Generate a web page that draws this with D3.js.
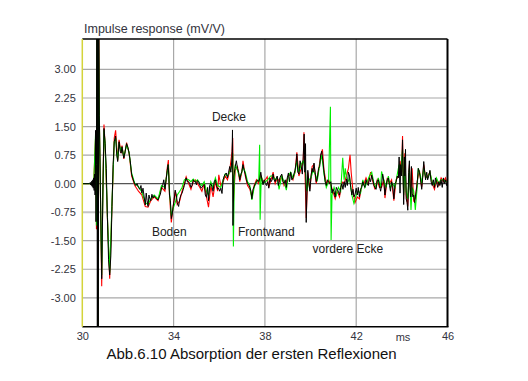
<!DOCTYPE html>
<html><head><meta charset="utf-8">
<script src="https://cdn.jsdelivr.net/npm/d3@7/dist/d3.min.js"></script>
<style>
html,body{margin:0;padding:0;background:#fff;}
svg{display:block;font-family:"Liberation Sans",Arial,sans-serif;}
</style></head>
<body><svg id="chart" width="528" height="381"></svg>
<script>
const yTicks = [3, 2.25, 1.5, 0.75, 0, -0.75, -1.5, -2.25, -3];
const xTicks = [30, 34, 38, 42, 46];
const title = "Impulse response (mV/V)";
const xUnit = "ms";
const caption = "Abb.6.10 Absorption der ersten Reflexionen";
const annotations = [
  {text: "Decke", t: 35.68, v: 1.65},
  {text: "Boden", t: 33.05, v: -1.38},
  {text: "Frontwand", t: 36.82, v: -1.38},
  {text: "vordere Ecke", t: 40.09, v: -1.82}
];

// [time ms, value mV/V]
const blackSeries = [[30.00,0],[30.30,0],[30.34,0.02],[30.36,-0.03],[30.38,0.04],[30.40,-0.05],[30.42,0.07],[30.44,-0.08],[30.46,0.1],[30.48,-0.12],[30.50,0.15],[30.52,-0.18],[30.54,0.25],[30.56,-0.3],[30.58,1.4],[30.60,-1.0],[30.62,0.5],[30.64,5.5],[30.66,-5.5],[30.68,5.5],[30.70,-5.5],[30.72,4.5],[30.745,1.8],
[30.80,-0.43],[30.85,-2.5],[30.90,-0.3],[30.95,1.45],[31.00,1.05],[31.05,0.4],[31.10,-0.9],[31.15,-2.0],[31.20,-2.4],[31.25,-1.9],[31.30,-0.6],[31.35,0.5],[31.40,1.1],[31.46,1.25],[31.51,0.75],[31.55,0.58],[31.61,1.1],[31.66,0.85],[31.70,0.8],[31.74,0.97],[31.78,0.8],[31.82,0.67],[31.88,0.85],[31.94,1.05],[32.00,0.95],[32.05,0.8],[32.10,0.6],[32.16,0.25],[32.22,0.12],[32.28,0.02],[32.34,-0.05],[32.40,0.0],[32.46,-0.1],[32.52,-0.15],[32.57,-0.05],[32.61,-0.25],[32.66,-0.12],[32.71,-0.35],[32.76,-0.56],[32.80,-0.25],[32.84,-0.45],[32.88,-0.6],[32.92,-0.3],[32.96,-0.4],[33.00,-0.45],[33.05,-0.28],[33.10,-0.38],[33.15,-0.32],[33.20,-0.36],[33.26,-0.4],[33.32,-0.43],[33.37,-0.35],[33.42,-0.28],[33.47,-0.12],[33.52,-0.05],[33.57,0.1],[33.62,-0.15],[33.67,0.1],[33.72,0.35],[33.76,0.5],[33.79,0.2],[33.82,-0.3],[33.86,-0.45],[33.90,-0.92],[33.94,-0.8],[33.98,-0.6],[34.02,-0.45],[34.07,-0.17],[34.12,-0.3],[34.16,-0.5],[34.22,-0.6],[34.27,-0.4],[34.32,-0.3],[34.37,-0.25],[34.42,-0.16],[34.47,-0.05],[34.51,0.05],[34.55,0.15],[34.60,0.05],[34.66,0.05],[34.71,0.0],[34.76,-0.1],[34.81,-0.05],[34.86,0.1],[34.91,0.05],[34.95,0.06],[35.00,-0.03],[35.05,0.08],[35.10,0.05],[35.15,-0.04],[35.20,-0.12],[35.24,-0.1],[35.29,-0.05],[35.34,-0.02],[35.39,-0.3],[35.44,-0.36],[35.49,-0.1],[35.53,-0.45],[35.58,-0.05],[35.63,0.0],[35.68,-0.08],[35.73,-0.2],[35.78,0.05],[35.83,0.1],[35.88,-0.05],[35.93,-0.15],[35.97,-0.12],[36.02,-0.2],[36.07,-0.12],[36.12,-0.26],[36.17,0.1],[36.22,0.2],[36.26,0.25],[36.31,0.28],[36.36,0.15],[36.41,0.3],[36.46,0.45],[36.51,0.3],[36.56,0.7],[36.58,1.41],[36.60,-1.1],[36.64,0.2],[36.70,0.45],[36.75,0.6],[36.80,0.4],[36.85,0.3],[36.90,0.1],[36.95,0.25],[36.99,0.32],[37.04,0.5],[37.09,0.35],[37.14,0.25],[37.19,0.1],[37.24,0.0],[37.29,-0.03],[37.34,-0.1],[37.39,-0.2],[37.43,-0.4],[37.48,-0.15],[37.53,-0.08],[37.58,0.0],[37.63,0.05],[37.68,0.1],[37.73,0.05],[37.78,0.15],[37.82,0.3],[37.87,0.1],[37.92,-0.03],[37.97,0.1],[38.02,0.0],[38.07,-0.05],[38.12,0.05],[38.17,-0.12],[38.22,0.15],[38.27,0.05],[38.32,0.1],[38.36,0.25],[38.40,0.1],[38.45,0.05],[38.50,0.15],[38.54,0.2],[38.59,-0.05],[38.64,0.12],[38.69,0.2],[38.74,0.25],[38.79,0.05],[38.84,0.0],[38.89,0.1],[38.94,-0.1],[38.98,0.15],[39.03,0.28],[39.08,0.05],[39.13,0.3],[39.18,0.1],[39.23,0.15],[39.27,0.25],[39.32,0.35],[39.37,0.55],[39.40,0.78],[39.44,0.3],[39.49,0.25],[39.54,0.6],[39.59,0.45],[39.64,0.25],[39.68,0.7],[39.72,1.3],[39.75,0.3],[39.78,1.05],[39.81,-1.02],[39.84,-0.3],[39.88,0.35],[39.93,0.0],[39.97,-0.2],[40.02,0.2],[40.07,0.4],[40.11,0.3],[40.15,0.54],[40.20,0.3],[40.25,0.05],[40.30,0.15],[40.35,0.4],[40.40,0.45],[40.44,0.75],[40.49,0.85],[40.54,0.6],[40.59,0.3],[40.64,0.05],[40.69,-0.05],[40.74,0.1],[40.79,0.05],[40.84,0.0],[40.89,0.05],[40.94,-0.25],[40.98,-0.15],[41.03,-0.2],[41.08,-0.35],[41.13,-0.1],[41.17,-0.15],[41.22,-0.2],[41.27,-0.3],[41.32,-0.1],[41.37,0.0],[41.42,-0.15],[41.47,0.05],[41.52,-0.1],[41.57,0.12],[41.61,-0.05],[41.66,0.3],[41.71,0.2],[41.76,-0.1],[41.81,-0.3],[41.86,-0.15],[41.90,-0.35],[41.95,-0.28],[42.00,-0.12],[42.05,-0.3],[42.09,-0.1],[42.14,-0.35],[42.19,-0.15],[42.24,-0.1],[42.29,0.05],[42.34,-0.05],[42.38,-0.1],[42.43,0.1],[42.48,0.0],[42.53,-0.05],[42.58,0.15],[42.63,0.05],[42.68,0.22],[42.73,0.1],[42.78,-0.05],[42.82,-0.1],[42.87,-0.15],[42.92,0.08],[42.97,0.1],[43.02,-0.05],[43.07,-0.2],[43.11,-0.05],[43.16,0.25],[43.21,0.05],[43.26,-0.3],[43.31,-0.05],[43.36,0.1],[43.41,0.15],[43.46,-0.05],[43.50,-0.2],[43.55,0.05],[43.60,-0.05],[43.65,-0.4],[43.70,0.0],[43.75,0.05],[43.80,0.2],[43.85,0.15],[43.88,0.7],[43.92,-0.25],[43.95,0.5],[43.99,0.2],[44.03,1.15],[44.06,0.0],[44.08,-0.55],[44.11,0.7],[44.13,0.2],[44.16,0.9],[44.19,-0.4],[44.23,-0.5],[44.26,-0.7],[44.30,0.3],[44.33,0.6],[44.36,-0.1],[44.39,-0.35],[44.42,0.45],[44.45,-0.25],[44.49,-0.35],[44.52,-0.3],[44.56,-0.5],[44.59,-0.35],[44.63,-0.2],[44.67,0.0],[44.72,0.4],[44.77,0.3],[44.82,0.1],[44.87,-0.15],[44.91,0.15],[44.96,0.58],[45.00,0.3],[45.04,0.1],[45.09,0.3],[45.13,0.1],[45.18,0.2],[45.23,0.35],[45.28,0.05],[45.33,-0.05],[45.38,0.1],[45.43,-0.1],[45.47,0.15],[45.52,0.05],[45.57,-0.1],[45.62,0.05],[45.67,-0.05],[45.72,0.1],[45.77,-0.1],[45.82,0.15],[45.86,0.0],[45.91,0.1],[45.96,-0.05],[46.00,0.05]];

const redSeries = [[30,0],[30.5,0],[30.58,1.2],[30.62,-1.2],[30.65,6],[30.68,-6],[30.71,5],[30.75,1.6],[30.8,-0.5],[30.85,-2.7],[30.9,-0.2],[30.95,1.55],[31.0,1.0],[31.1,-0.9],[31.2,-2.5],[31.3,-0.6],[31.4,1.2],[31.46,1.4],[31.55,0.6],[31.61,1.15],[31.7,0.8],[31.74,1.0],[31.82,0.65],[31.94,1.08],[32.05,0.8],[32.16,0.2],[32.3,-0.05],[32.46,-0.2],[32.61,-0.3],[32.76,-0.6],[32.88,-0.62],[33.0,-0.45],[33.15,-0.35],[33.32,-0.45],[33.47,-0.1],[33.62,-0.2],[33.72,0.4],[33.77,0.62],[33.82,-0.3],[33.9,-1.02],[33.98,-0.6],[34.07,-0.2],[34.16,-0.55],[34.27,-0.45],[34.37,-0.2],[34.47,0.0],[34.55,0.18],[34.66,0.0],[34.76,-0.15],[34.86,0.05],[34.95,0.1],[35.05,0.0],[35.15,-0.1],[35.24,-0.2],[35.34,0.0],[35.44,-0.35],[35.53,-0.62],[35.63,-0.05],[35.73,-0.35],[35.83,0.05],[35.93,-0.2],[35.98,0.23],[36.07,-0.05],[36.17,0.05],[36.26,0.2],[36.36,0.1],[36.46,0.35],[36.56,0.84],[36.59,1.2],[36.62,-0.5],[36.70,0.35],[36.80,0.45],[36.90,0.05],[36.99,0.3],[37.04,0.6],[37.14,0.2],[37.24,-0.05],[37.34,-0.15],[37.43,-0.35],[37.53,-0.05],[37.63,0.1],[37.73,0.0],[37.82,0.2],[37.92,0.05],[38.02,0.1],[38.10,0.18],[38.17,-0.1],[38.27,0.1],[38.36,0.3],[38.45,0.0],[38.54,0.15],[38.64,0.05],[38.74,0.2],[38.84,-0.05],[38.94,0.05],[39.03,0.2],[39.13,0.25],[39.23,0.1],[39.32,0.3],[39.40,0.82],[39.49,0.2],[39.59,0.4],[39.68,0.6],[39.71,1.35],[39.76,0.2],[39.81,-0.9],[39.88,0.3],[39.97,-0.15],[40.07,0.45],[40.15,0.5],[40.25,0.0],[40.35,0.35],[40.44,0.7],[40.52,0.9],[40.59,0.35],[40.69,0.0],[40.79,0.1],[40.89,-0.05],[40.98,-0.2],[41.08,-0.4],[41.17,-0.2],[41.27,-0.35],[41.37,0.05],[41.47,0.0],[41.57,0.2],[41.66,0.4],[41.73,0.76],[41.78,0.3],[41.86,-0.2],[41.95,-0.5],[42.05,-0.35],[42.14,-0.4],[42.24,-0.05],[42.34,0.0],[42.43,0.15],[42.53,0.0],[42.63,0.3],[42.73,0.05],[42.82,-0.15],[42.92,0.1],[43.02,-0.1],[43.11,-0.1],[43.21,0.1],[43.26,-0.38],[43.36,0.15],[43.46,0.0],[43.55,0.1],[43.65,-0.45],[43.75,0.1],[43.85,0.2],[43.92,0.6],[43.99,0.3],[44.03,1.25],[44.08,-0.4],[44.13,0.8],[44.19,-0.3],[44.26,-0.6],[44.33,0.5],[44.39,-0.3],[44.45,0.4],[44.52,-0.45],[44.59,-0.4],[44.67,0.05],[44.77,0.35],[44.87,-0.1],[44.96,0.5],[45.04,0.15],[45.13,0.2],[45.23,0.3],[45.33,0.0],[45.43,-0.15],[45.52,0.1],[45.62,-0.05],[45.72,0.15],[45.82,0.05],[45.91,0.15],[46.0,0.0]];

const greenSeries = [[30,0],[30.5,0],[30.58,1.3],[30.62,-1.1],[30.65,5],[30.68,-5],[30.71,4],[30.745,1.8],[30.8,-0.45],[30.85,-2.4],[30.9,-0.3],[30.95,1.4],[31.0,1.05],[31.1,-0.85],[31.2,-2.35],[31.3,-0.5],[31.4,1.1],[31.46,1.2],[31.55,0.62],[31.61,1.05],[31.7,0.85],[31.74,0.95],[31.82,0.7],[31.94,1.02],[32.05,0.82],[32.16,0.28],[32.3,0.0],[32.46,-0.08],[32.61,-0.22],[32.76,-0.5],[32.88,-0.55],[33.0,-0.4],[33.15,-0.3],[33.32,-0.4],[33.47,-0.05],[33.62,-0.1],[33.72,0.3],[33.77,0.5],[33.82,-0.2],[33.9,-0.85],[33.98,-0.65],[34.07,-0.5],[34.16,-0.3],[34.27,-0.2],[34.37,-0.1],[34.47,0.1],[34.55,0.12],[34.66,0.1],[34.76,0.05],[34.86,0.12],[34.95,0.05],[35.05,0.1],[35.15,0.0],[35.24,-0.05],[35.34,0.05],[35.44,-0.2],[35.53,-0.3],[35.63,0.05],[35.73,-0.1],[35.83,0.15],[35.93,-0.05],[36.07,-0.1],[36.17,0.1],[36.26,0.25],[36.36,0.2],[36.46,0.3],[36.56,0.5],[36.59,0.8],[36.62,-1.65],[36.66,0.1],[36.70,0.5],[36.80,0.35],[36.90,0.15],[36.99,0.3],[37.04,0.45],[37.14,0.3],[37.24,0.05],[37.34,-0.05],[37.43,-0.43],[37.53,-0.1],[37.63,0.05],[37.73,0.1],[37.77,1.02],[37.79,-0.95],[37.84,0.2],[37.92,0.0],[38.02,0.05],[38.12,0.1],[38.25,0.2],[38.36,0.2],[38.45,0.1],[38.54,0.15],[38.62,-0.15],[38.74,0.2],[38.84,0.05],[38.94,-0.17],[39.03,0.2],[39.13,0.3],[39.23,0.15],[39.32,0.3],[39.40,0.6],[39.49,0.3],[39.59,0.5],[39.68,0.6],[39.76,0.4],[39.84,-0.2],[39.93,0.1],[40.02,0.15],[40.11,0.35],[40.20,0.25],[40.30,0.1],[40.40,0.5],[40.49,0.75],[40.59,0.25],[40.69,-0.1],[40.79,0.05],[40.87,2.02],[40.90,-1.48],[40.94,-0.3],[41.03,-0.1],[41.13,-0.3],[41.22,-0.1],[41.32,-0.2],[41.41,0.68],[41.47,0.1],[41.52,0.4],[41.61,0.0],[41.71,0.15],[41.81,-0.3],[41.90,-0.52],[42.00,-0.3],[42.09,-0.2],[42.19,-0.25],[42.29,0.1],[42.38,-0.1],[42.48,0.05],[42.58,0.2],[42.68,0.3],[42.78,0.0],[42.87,-0.1],[42.97,0.15],[43.07,-0.1],[43.11,0.32],[43.21,0.1],[43.31,-0.1],[43.41,0.2],[43.50,-0.1],[43.60,0.0],[43.70,-0.1],[43.80,0.25],[43.88,0.5],[43.95,0.3],[44.03,0.9],[44.08,-0.3],[44.13,0.4],[44.19,-0.2],[44.26,-0.4],[44.33,0.4],[44.40,-0.69],[44.45,-0.1],[44.52,-0.2],[44.59,-0.69],[44.67,-0.1],[44.72,0.4],[44.82,0.2],[44.87,0.0],[44.96,0.4],[45.04,0.2],[45.13,0.15],[45.23,0.3],[45.33,0.05],[45.43,-0.05],[45.52,0.15],[45.62,0.0],[45.72,0.1],[45.82,0.1],[45.91,0.05],[46.0,0.05]];

const svg = d3.select("#chart");
const L = 82.3, R = 447.5, T = 39, B = 326.7;
const x = d3.scaleLinear().domain([30, 46]).range([L, R]);
const y = d3.scaleLinear().domain([-3.76, 3.8]).range([B, T]);
const textCol = "#33333d";

// grid
svg.append("g").selectAll("line").data(yTicks).join("line")
  .attr("x1", L).attr("x2", R)
  .attr("y1", d => y(d)).attr("y2", d => y(d))
  .attr("stroke", d => d === 0 ? "#555" : (d === -0.75 ? "#c4c4c4" : "#a8a8a8"))
  .attr("stroke-width", d => d === -0.75 ? 2 : 1.2);
svg.append("g").selectAll("line").data(xTicks.slice(1, -1)).join("line")
  .attr("x1", d => x(d)).attr("x2", d => x(d))
  .attr("y1", T).attr("y2", B)
  .attr("stroke", "#a8a8a8").attr("stroke-width", 1.2);

// clip
svg.append("clipPath").attr("id", "clip").append("rect")
  .attr("x", L).attr("y", T).attr("width", R - L).attr("height", B - T);

const line = d3.line().x(d => x(d[0])).y(d => y(d[1]));
const plot = svg.append("g").attr("clip-path", "url(#clip)");
plot.append("path").datum(redSeries).attr("d", line)
  .attr("fill", "none").attr("stroke", "#ff0000").attr("stroke-width", 1.1);
plot.append("path").datum(greenSeries).attr("d", line)
  .attr("fill", "none").attr("stroke", "#00ee00").attr("stroke-width", 1.1);
plot.append("path").datum(blackSeries).attr("d", line)
  .attr("fill", "none").attr("stroke", "#000").attr("stroke-width", 1);

// frame
svg.append("line").attr("x1", L).attr("x2", R).attr("y1", T).attr("y2", T).attr("stroke", "#000").attr("stroke-width", 1.5);
svg.append("line").attr("x1", L).attr("x2", R + 1).attr("y1", B).attr("y2", B).attr("stroke", "#000").attr("stroke-width", 1.5);
svg.append("line").attr("x1", R).attr("x2", R).attr("y1", T).attr("y2", B).attr("stroke", "#000").attr("stroke-width", 2);
svg.append("line").attr("x1", L).attr("x2", L).attr("y1", T).attr("y2", B).attr("stroke", "#d4d43a").attr("stroke-width", 1.5);

// axes (labels only)
const yAxis = d3.axisLeft(y).tickValues(yTicks).tickFormat(d => d.toFixed(2)).tickSize(0).tickPadding(6);
const gy = svg.append("g").attr("transform", `translate(${L - 0.5},0)`).call(yAxis);
gy.select(".domain").remove();
gy.selectAll("text").attr("font-family", "Liberation Sans, Arial, sans-serif").attr("font-size", 11).attr("fill", textCol);

const xAxis = d3.axisBottom(x).tickValues(xTicks).tickFormat(d => String(d)).tickSize(0).tickPadding(6);
const gx = svg.append("g").attr("transform", `translate(0,${B})`).call(xAxis);
gx.select(".domain").remove();
gx.selectAll("text").attr("font-family", "Liberation Sans, Arial, sans-serif").attr("font-size", 11).attr("fill", textCol);

svg.append("text").attr("x", x(44.05)).attr("y", 340.5).attr("text-anchor", "middle")
  .attr("font-size", 11).attr("fill", textCol).text(xUnit);

svg.append("text").attr("x", 84).attr("y", 33).attr("font-size", 12.5).attr("fill", textCol).text(title);

svg.append("text").attr("x", 106.5).attr("y", 358.5).attr("font-size", 15).attr("fill", "#111").text(caption);

svg.append("g").selectAll("text").data(annotations).join("text")
  .attr("x", d => x(d.t)).attr("y", d => y(d.v))
  .attr("font-size", 12).attr("fill", "#222").text(d => d.text);
</script></body></html>
